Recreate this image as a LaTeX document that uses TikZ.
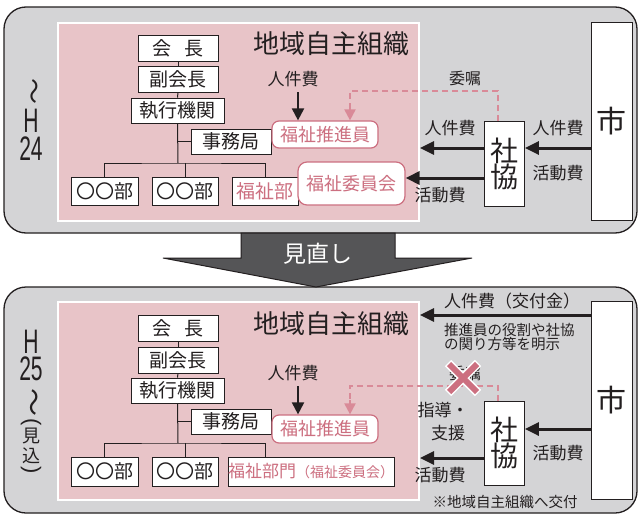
\documentclass[tikz,border=0pt]{standalone}
\usepackage{fontspec}
\setmainfont{Noto Sans CJK JP}
\newfontfamily\latinf{Liberation Sans}
\usetikzlibrary{arrows.meta}
\definecolor{panelgray}{HTML}{D4D4D6}
\definecolor{pinkbg}{HTML}{E8C4C8}
\definecolor{pinkln}{HTML}{CC6F80}
\definecolor{pinkdash}{HTML}{D98A98}
\definecolor{darkarrow}{HTML}{555557}
\definecolor{txt}{HTML}{231F20}
\newcommand\fsz[1]{\fontsize{#1}{#1}\selectfont}
\begin{document}
\begin{tikzpicture}[x=1pt,y=-1pt,
 panel/.style={draw=txt,line width=1.3pt,fill=panelgray,rounded corners=22pt},
 pinkarea/.style={draw=white,line width=2pt,fill=pinkbg,inner sep=0pt,anchor=north west},
 box/.style={draw=txt,line width=0.9pt,fill=white,inner sep=0pt,text=txt,font=\fsz{19}},
 rbox/.style={draw=pinkln,line width=1.2pt,fill=white,rounded corners=7pt,inner sep=0pt,text=pinkln,font=\fsz{18}},
 tallbox/.style={draw=txt,line width=0.9pt,fill=white,inner sep=0pt,anchor=north west},
 lbl/.style={inner sep=0pt,text=txt,font=\fsz{17}},
 vtx/.style={inner sep=0pt,text=txt},
 yr/.style={inner sep=0pt,text=txt,font=\latinf\fsz{34},xscale=0.62,anchor=base,text height=24pt,text depth=0pt},
 org/.style={draw=txt,line width=1pt},
 arr/.style={draw=txt,line width=3pt,-{Triangle[length=14pt,width=13pt]}},
 darr/.style={draw=txt,line width=2pt,-{Triangle[length=12pt,width=12pt]}},
 pdash/.style={draw=pinkdash,line width=2pt,dash pattern=on 6pt off 4pt},
 parr/.style={draw=pinkdash,line width=2pt,-{Triangle[length=11pt,width=11pt]}},
]
\useasboundingbox (0,0) rectangle (640,522);
\fill[white] (0,0) rectangle (640,522);

% ================= TOP PANEL =================
\draw[panel] (4,7) rectangle (637,233);
\node[pinkarea,minimum width=361pt,minimum height=198pt] (pa1) at (57,22) {};
\node[tallbox,minimum width=41pt,minimum height=198pt] (shi1) at (591,22) {};
\node[vtx,font=\fsz{30}] (shit1) at (611.5,121) {市};
\node[tallbox,minimum width=40pt,minimum height=85pt] (sk1) at (484,121) {};
\node[vtx,font=\fsz{28},align=center] (skt1) at (504,163.5) {社\\[-2pt]協};

% left label
\node[vtx,font=\fsz{26},rotate=-90] (t1a) at (31,91) {〜};
\node[yr] (t1b) at (31,132) {H};
\node[yr] (t1c) at (31,160) {24};

\node[vtx,font=\fsz{26}] (title1) at (331,44) {地域自主組織};

% org chart
\node[box,minimum width=80pt,minimum height=26pt] (kc1) at (178,48) {会\hspace{0.7em}長};
\node[box,minimum width=80pt,minimum height=26pt] (fk1) at (178,79) {副会長};
\node[box,minimum width=93pt,minimum height=25pt] (sk_1) at (177.5,110.5) {執行機関};
\node[box,minimum width=80pt,minimum height=25pt] (jm1) at (231,141.5) {事務局};
\node[box,minimum width=67pt,minimum height=28pt] (b1a) at (104.5,191) {〇〇部};
\node[box,minimum width=66pt,minimum height=28pt] (b1b) at (185,191) {〇〇部};
\node[box,minimum width=66pt,minimum height=28pt,text=pinkln] (b1c) at (265,191) {福祉部};
\coordinate (bar1) at (178,163);
\draw[org] (kc1) -- (fk1);
\draw[org] (fk1) -- (sk_1);
\draw[org] (sk_1.south) -- (bar1);
\draw[org] (sk_1.south |- jm1.west) -- (jm1.west);
\draw[org] (b1a.north) |- (bar1) -| (b1c.north);
\draw[org] (b1b.north) -- (b1b.north |- bar1);

\node[rbox,minimum width=106pt,minimum height=27pt] (sin1) at (325,134.5) {福祉推進員};
\node[rbox,minimum width=107pt,minimum height=43pt,rounded corners=9pt] (iin1) at (351.5,183.5) {福祉委員会};

\node[lbl] (jk1) at (293,79) {人件費};
\coordinate (jk1a) at (298,92);
\draw[darr] (jk1a) -- (jk1a |- sin1.north);

% dashed commission
\node[lbl,font=\fsz{16}] (ish1) at (465,78) {委嘱};
\coordinate (d1a) at (498,91);
\coordinate (d1b) at (350,91);
\draw[pdash] (sk1.north -| d1a) -- (d1a) -- (d1b) -- (350,108);
\draw[parr] (350,106) -- (sin1.north -| d1b);

% arrows
\coordinate (a1y) at (0,148);
\coordinate (a2y) at (0,178);
\draw[arr] (shi1.west |- a1y) -- (sk1.east |- a1y);
\draw[arr] (sk1.west |- a1y) -- (pa1.east |- a1y);
\draw[arr] (sk1.west |- a2y) -- (iin1.east |- a2y);
\node[lbl] (l1a) at (450,128) {人件費};
\node[lbl] (l1b) at (440,195) {活動費};
\node[lbl] (l1c) at (558,128) {人件費};
\node[lbl] (l1d) at (558,173) {活動費};

% ================= BOTTOM PANEL =================
\draw[panel] (4,287) rectangle (637,513);
\node[pinkarea,minimum width=361pt,minimum height=198pt] (pa2) at (57,301) {};
\node[tallbox,minimum width=41pt,minimum height=198pt] (shi2) at (591,301) {};
\node[vtx,font=\fsz{30}] (shit2) at (611.5,400) {市};
\node[tallbox,minimum width=40pt,minimum height=84pt] (sk2) at (484,401) {};
\node[vtx,font=\fsz{28},align=center] (skt2) at (504,443) {社\\[-2pt]協};

% left label
\node[yr] (t2a) at (31,353) {H};
\node[yr] (t2b) at (31,380) {25};
\node[vtx,font=\fsz{28},rotate=-90] (t2c) at (31,402) {〜};
\node[vtx,font=\latinf\fsz{22},rotate=-90] (t2d) at (31,422) {(};
\node[vtx,font=\fsz{18}] (t2e) at (31,436) {見};
\node[vtx,font=\fsz{18}] (t2f) at (31,456) {込};
\node[vtx,font=\latinf\fsz{22},rotate=-90] (t2g) at (31,470) {)};

\node[vtx,font=\fsz{26}] (title2) at (331,324) {地域自主組織};

\node[box,minimum width=80pt,minimum height=26pt] (kc2) at (178,328) {会\hspace{0.7em}長};
\node[box,minimum width=80pt,minimum height=26pt] (fk2) at (178,360) {副会長};
\node[box,minimum width=93pt,minimum height=25pt] (sk_2) at (177.5,390.5) {執行機関};
\node[box,minimum width=80pt,minimum height=25pt] (jm2) at (231,421.5) {事務局};
\node[box,minimum width=67pt,minimum height=29pt] (b2a) at (104.5,471.5) {〇〇部};
\node[box,minimum width=66pt,minimum height=29pt] (b2b) at (185,471.5) {〇〇部};
\node[box,minimum width=161pt,minimum height=29pt,text=pinkln] (b2c) at (311,471.5) {{\fsz{17}福祉部門}{\fsz{14}（福祉委員会）}};
\coordinate (bar2) at (178,443);
\draw[org] (kc2) -- (fk2);
\draw[org] (fk2) -- (sk_2);
\draw[org] (sk_2.south) -- (bar2);
\draw[org] (sk_2.south |- jm2.west) -- (jm2.west);
\coordinate (b2cn) at (265,457);
\draw[org] (b2a.north) |- (bar2) -| (b2cn);
\draw[org] (b2b.north) -- (b2b.north |- bar2);

\node[rbox,minimum width=106pt,minimum height=28pt] (sin2) at (325,429) {福祉推進員};

\node[lbl] (jk2) at (293,373) {人件費};
\coordinate (jk2a) at (298,386);
\draw[darr] (jk2a) -- (jk2a |- sin2.north);

% dashed commission (cancelled)
\node[lbl,font=\fsz{16}] (ish2) at (465,373) {委嘱};
\coordinate (d2a) at (498,386);
\coordinate (d2b) at (350,386);
\draw[pdash] (sk2.north -| d2a) -- (d2a) -- (d2b) -- (350,402);
\draw[parr] (350,400) -- (sin2.north -| d2b);
\draw[white,line width=9pt] (448,363) -- (478,393) (448,393) -- (478,363);
\draw[pinkln,line width=6pt] (449,364) -- (477,392) (449,392) -- (477,364);

\node[lbl] (sd1) at (443,410) {指導・};
\node[lbl] (sd2) at (448,433) {支援};

% arrows
\coordinate (a3y) at (0,315);
\coordinate (a4y) at (0,429);
\coordinate (a5y) at (0,458);
\draw[arr] (shi2.west |- a3y) -- (pa2.east |- a3y);
\draw[arr] (shi2.west |- a4y) -- (sk2.east |- a4y);
\draw[arr] (sk2.west |- a5y) -- (pa2.east |- a5y);
\node[lbl,anchor=west] (l2a) at (444,301) {人件費（交付金）};
\node[lbl,anchor=west,font=\fsz{14.5},align=left] (l2b) at (444,337) {推進員の役割や社協\\の関り方等を明示};
\node[lbl] (l2c) at (558,453) {活動費};
\node[lbl] (l2d) at (440,475) {活動費};
\node[lbl,font=\fsz{14.5}] (note) at (505,502) {※地域自主組織へ交付};

% ================= REVIEW ARROW =================
\draw[draw=txt,line width=1pt,fill=darkarrow,line join=miter]
  (241,233) -- (395,233) -- (395,258) -- (472,258) -- (316,287) -- (163,258) -- (241,258) -- cycle;
\node[vtx,text=white,font=\fsz{23}] (mn) at (318,254) {見直し};
\end{tikzpicture}
\end{document}
